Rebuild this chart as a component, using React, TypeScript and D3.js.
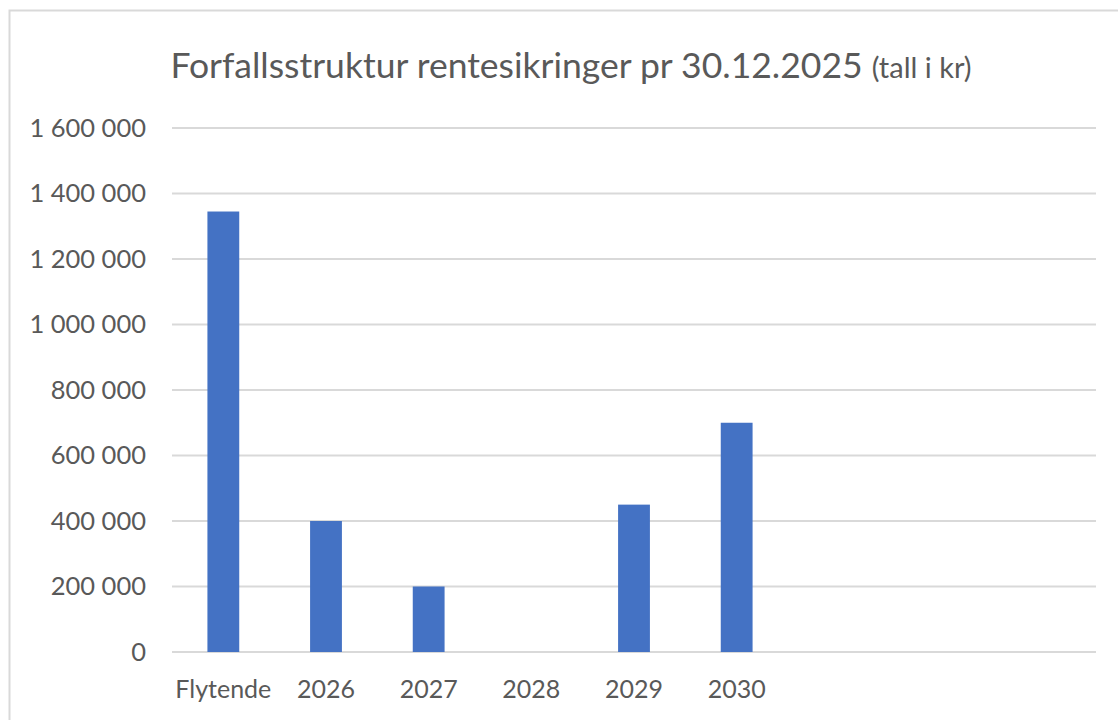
import React, { useEffect, useRef } from 'react';
import * as d3 from 'd3';

const categories = ['Flytende', '2026', '2027', '2028', '2029', '2030', '', ' ', '  '];
const values = [1345000, 400000, 200000, 0, 450000, 700000, null, null, null];
const yTicks = [0, 200000, 400000, 600000, 800000, 1000000, 1200000, 1400000, 1600000];

const App = () => {
  const chartRef = useRef<SVGSVGElement>(null);

  useEffect(() => {
    const svg = d3.select(chartRef.current);
    svg.selectAll('*').remove();

    const width = 1118;
    const height = 720;
    const font = 'Lato, "Open Sans", sans-serif';
    const textColor = '#595959';

    svg.attr('width', width).attr('height', height);

    svg.append('rect')
      .attr('x', 9.5).attr('y', 10.5)
      .attr('width', width + 20).attr('height', height + 20)
      .attr('fill', '#fff').attr('stroke', '#d9d9d9').attr('stroke-width', 2);

    const x = d3.scaleBand().domain(categories).range([172, 1096]).paddingInner(0.69).paddingOuter(0.345);
    const y = d3.scaleLinear().domain([0, 1600000]).range([652, 128]);

    const locale = d3.formatLocale({ decimal: ',', thousands: ' ', grouping: [3], currency: ['', ' kr'] });
    const fmt = locale.format(',.0f');

    // gridlines
    svg.append('g').selectAll('line')
      .data(yTicks)
      .enter().append('line')
      .attr('x1', 172).attr('x2', 1096)
      .attr('y1', d => y(d)).attr('y2', d => y(d))
      .attr('stroke', '#d9d9d9').attr('stroke-width', 2);

    // y labels
    svg.append('g').selectAll('text')
      .data(yTicks)
      .enter().append('text')
      .attr('x', 146).attr('y', d => y(d))
      .attr('dy', '0.35em')
      .attr('text-anchor', 'end')
      .style('font-family', font).style('font-size', '25.5px').attr('fill', textColor)
      .text(d => fmt(d));

    // bars
    svg.append('g').selectAll('rect')
      .data(categories.map((c, i) => ({ c, v: values[i] })).filter(d => d.v !== null && d.v > 0))
      .enter().append('rect')
      .attr('x', d => x(d.c)!)
      .attr('width', x.bandwidth())
      .attr('y', d => y(d.v as number))
      .attr('height', d => y(0) - y(d.v as number))
      .attr('fill', '#4472c4');

    // x labels
    svg.append('g').selectAll('text')
      .data(categories.filter(c => c.trim() !== ''))
      .enter().append('text')
      .attr('x', d => x(d)! + x.bandwidth() / 2)
      .attr('y', 689)
      .attr('dy', '0.35em')
      .attr('text-anchor', 'middle')
      .style('font-family', font).style('font-size', '25px').attr('fill', textColor)
      .text(d => d);

    // title
    const title = svg.append('text')
      .attr('x', 571).attr('y', 78)
      .attr('text-anchor', 'middle')
      .style('font-family', font).attr('fill', textColor);
    title.append('tspan').style('font-size', '35.5px').text('Forfallsstruktur rentesikringer pr 30.12.2025 ');
    title.append('tspan').style('font-size', '29px').text('(tall i kr)');
  }, []);

  return <svg ref={chartRef} style={{ position: 'absolute', left: 0, top: 0, display: 'block' }}></svg>;
};

export default App;
